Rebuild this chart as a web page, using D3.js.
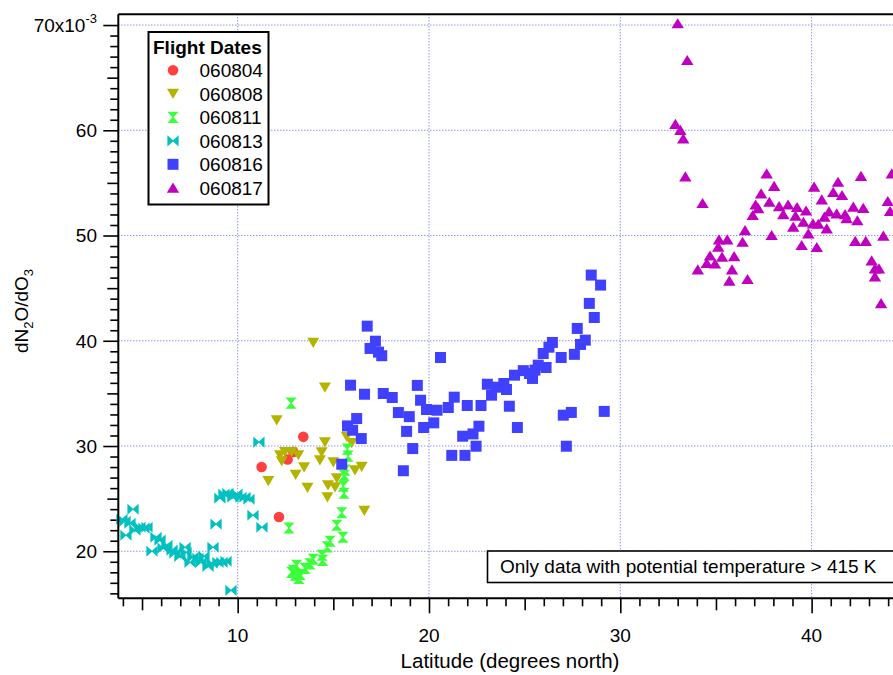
<!DOCTYPE html>
<html><head><meta charset="utf-8">
<script src="https://cdn.jsdelivr.net/npm/d3@7"></script>
<style>
body{margin:0;background:#fff}
svg{display:block}
text{font-family:"Liberation Sans",Arial,Helvetica,sans-serif;fill:#000}
</style>
</head><body>
<svg id="chart" width="893" height="675"></svg>
<script>
// ---------------- DATA ----------------
const seriesNames = ["060804","060808","060811","060813","060816","060817"];
const seriesColors = ["#ff4040","#b4b400","#3cff3c","#00c0c0","#4040ff","#c000c0"];
const seriesShapes = ["circle","triDown","hourglass","bowtie","square","triUp"];

const lat060804 = [13.43,12.91,12.61,11.25,12.16];
const val060804 = [30.87,29.44,28.72,28.01,23.26];

const lat060808 = [13.95,14.56,12.04,11.60,12.21,12.30,12.47,12.82,13.17,13.47,13.03,13.65,14.30,14.39,14.56,15.00,14.72,14.69,15.18,15.09,15.70,15.96,16.13,16.48,16.62];
const val060808 = [39.80,35.56,32.45,26.68,29.13,28.56,29.44,29.44,29.13,27.98,27.27,26.04,28.65,29.41,30.36,28.46,26.27,25.13,26.94,26.08,30.87,30.29,27.70,28.03,23.85];

const lat060811 = [12.79,12.68,15.73,15.77,15.61,15.57,15.52,15.56,15.44,15.18,15.50,14.83,14.68,14.41,14.44,13.95,13.78,13.52,13.26,13.08,12.91,13.00,12.82,13.20];
const val060811 = [34.07,22.21,29.70,29.03,27.70,27.22,26.18,25.51,23.66,22.47,21.33,20.95,20.41,19.62,19.14,19.24,18.81,18.38,17.81,18.67,18.19,17.72,18.00,17.43];

const lat060813 = [3.95,4.11,4.16,4.37,4.53,4.63,4.89,5.10,5.26,5.52,5.73,5.94,6.10,6.30,6.57,6.72,6.98,7.25,7.30,7.51,7.66,7.92,8.08,8.24,8.45,8.66,8.71,8.87,8.97,9.18,9.39,9.65,9.07,9.28,9.49,9.75,9.96,10.17,10.38,10.59,10.80,11.11,11.27];
const val060813 = [23.04,22.85,21.52,22.66,23.99,22.00,22.28,22.19,22.28,20.00,21.33,21.05,20.29,20.57,20.10,19.81,19.52,20.38,19.90,18.95,19.43,19.33,18.95,19.52,18.57,18.86,20.38,22.57,18.95,18.95,19.05,16.29,25.04,25.42,25.51,25.13,25.42,25.13,25.13,24.94,23.42,30.36,22.28];

const lat060816 = [16.77,17.20,16.92,17.36,17.53,20.60,15.90,16.63,17.61,18.08,19.39,19.56,18.40,18.97,19.87,20.42,21.01,21.32,22.00,22.72,16.22,15.74,16.01,16.46,18.83,19.72,20.25,21.76,22.30,22.61,19.15,15.44,18.66,21.19,21.88,22.46,28.48,28.97,28.38,28.64,27.75,28.17,27.92,27.60,26.91,26.45,26.27,25.97,25.71,26.12,25.54,25.41,25.25,24.93,24.47,23.91,24.05,23.05,23.54,23.27,24.20,27.02,27.44,29.16,24.62,27.18];
const val060816 = [41.39,39.96,39.27,38.92,38.58,38.41,35.78,34.92,34.99,34.61,35.76,34.35,33.18,32.79,33.47,33.40,33.66,34.64,33.85,33.85,32.61,31.91,31.50,30.71,31.39,31.76,32.20,30.93,31.15,31.88,29.76,28.27,27.65,29.11,29.11,29.98,46.24,45.29,43.55,42.21,41.17,40.06,39.65,38.71,38.41,39.84,39.39,38.79,37.68,37.46,37.21,36.42,36.89,37.16,36.73,35.94,35.37,35.87,35.59,34.83,33.78,32.93,33.19,33.29,31.76,29.98];

const lat060817 = [33.00,33.50,32.88,33.14,33.29,33.40,34.30,34.05,34.52,34.69,34.95,35.12,35.16,35.59,35.32,35.84,35.95,35.70,36.39,36.52,36.65,36.92,37.07,37.21,37.36,37.65,37.79,38.04,37.91,38.30,38.52,38.77,39.04,39.24,39.16,39.57,39.71,39.48,39.83,40.13,40.07,40.27,40.35,40.53,40.67,40.79,40.91,41.13,41.38,41.59,41.31,41.75,41.83,42.18,42.39,42.70,42.58,42.28,42.83,43.14,43.31,43.52,43.31,43.63,43.75,43.98,44.10,44.19];
const val060817 = [70.16,66.67,60.59,60.02,59.23,55.62,53.08,46.78,47.38,48.09,47.33,48.93,49.63,49.63,47.98,46.78,48.04,45.71,49.40,50.51,45.86,51.94,52.94,52.60,54.00,55.90,53.20,54.70,50.04,52.79,52.03,52.94,50.83,52.70,51.89,51.30,52.37,49.09,50.20,54.63,51.15,48.90,51.11,53.43,51.78,50.67,52.29,54.13,55.10,53.84,52.10,52.03,51.63,52.73,51.44,52.62,55.65,49.49,49.49,47.63,46.87,46.87,46.11,43.57,49.99,53.27,52.32,55.90];

const xMajorTicks = [10,20,30,40];
const yMajorTicks = [20,30,40,50,60,70];
const xTickLabels = ["10","20","30","40"];
const yTickLabels = ["20","30","40","50","60","70x10"];
const legendTitle = "Flight Dates";
const noteText = "Only data with potential temperature > 415 K";
const xTitle = "Latitude (degrees north)";

const lats = [lat060804,lat060808,lat060811,lat060813,lat060816,lat060817];
const vals = [val060804,val060808,val060811,val060813,val060816,val060817];

// ---------------- LAYOUT ----------------
const L = 118.3, R = 900, T = 14.3, B = 598.3;
const x = d3.scaleLinear().domain([3.76, 44.62]).range([L, R]);
const y = d3.scaleLinear().domain([15.53, 71.02]).range([B, T]);
const svg = d3.select("#chart");
const FS = 19;

const shapes = {
  circle: "M5.3,0A5.3,5.3 0 1,1 -5.3,0A5.3,5.3 0 1,1 5.3,0Z",
  triDown: "M-6,-5L6,-5L0,5.2Z",
  triUp: "M0,-5.2L6.2,5L-6.2,5Z",
  square: "M-5.5,-5.5H5.5V5.5H-5.5Z",
  hourglass: "M-5.6,-5.6L5.6,-5.6L0.6,0L5.6,5.6L-5.6,5.6L-0.6,0Z",
  bowtie: "M-5.6,-5.6L0,-0.6L5.6,-5.6L5.6,5.6L0,0.6L-5.6,5.6Z"
};

// grid
const grid = svg.append("g");
grid.selectAll("line.gx").data(xMajorTicks).join("line")
  .attr("x1", d => x(d)).attr("x2", d => x(d)).attr("y1", T).attr("y2", B)
  .attr("stroke", "#5c5cff").attr("stroke-width", 1).attr("stroke-dasharray", "1,2");
grid.selectAll("line.gy").data(yMajorTicks).join("line")
  .attr("y1", d => y(d)).attr("y2", d => y(d)).attr("x1", L).attr("x2", R)
  .attr("stroke", "#5c5cff").attr("stroke-width", 1).attr("stroke-dasharray", "1,2");

// axes ticks
function xAxis(vals, size) {
  svg.append("g").attr("transform", `translate(0,${B})`)
    .call(d3.axisBottom(x).tickValues(vals).tickSize(size).tickFormat(""))
    .call(g => { g.select(".domain").remove(); g.selectAll("line").attr("stroke", "#000").attr("stroke-width", 1.6); });
}
function yAxis(vals, size) {
  svg.append("g").attr("transform", `translate(${L},0)`)
    .call(d3.axisLeft(y).tickValues(vals).tickSize(size).tickFormat(""))
    .call(g => { g.select(".domain").remove(); g.selectAll("line").attr("stroke", "#000").attr("stroke-width", 1.6); });
}
xAxis(d3.range(4, 45).filter(d => d % 5 !== 0), 8);
xAxis([5,15,25,35], 12);
xAxis(xMajorTicks, 15);
yAxis(d3.range(16, 71).filter(d => d % 5 !== 0), 8);
yAxis([25,35,45,55,65], 11);
yAxis(yMajorTicks, 15);

// tick labels
svg.append("g").selectAll("text").data(xMajorTicks).join("text")
  .attr("x", d => x(d)).attr("y", B + 44).attr("text-anchor", "middle")
  .attr("font-size", FS).text((d, i) => xTickLabels[i]);
const yl = svg.append("g").selectAll("text").data(yMajorTicks).join("text")
  .attr("x", 97).attr("y", d => y(d)).attr("dy", "0.36em").attr("text-anchor", "end")
  .attr("font-size", FS);
yl.each(function(d, i) {
  const t = d3.select(this);
  t.append("tspan").text(yTickLabels[i]);
  if (d === 70) t.append("tspan").attr("font-size", 13).attr("dy", -9).text("-3");
});

// markers
for (let s = 0; s < seriesNames.length; s++) {
  const pts = lats[s].map((la, i) => [la, vals[s][i]]);
  svg.append("g").selectAll("path").data(pts).join("path")
    .attr("d", shapes[seriesShapes[s]])
    .attr("transform", d => `translate(${x(d[0])},${y(d[1])})`)
    .attr("fill", seriesColors[s]);
}

// frame
svg.append("line").attr("x1", L).attr("x2", R).attr("y1", T).attr("y2", T).attr("stroke", "#000").attr("stroke-width", 2);
svg.append("line").attr("x1", L).attr("x2", R).attr("y1", B).attr("y2", B).attr("stroke", "#000").attr("stroke-width", 2);
svg.append("line").attr("x1", L).attr("x2", L).attr("y1", T).attr("y2", B).attr("stroke", "#000").attr("stroke-width", 2);

// legend
const lg = svg.append("g");
lg.append("rect").attr("x", 148.5).attr("y", 32).attr("width", 120).attr("height", 172.5)
  .attr("fill", "#fff").attr("stroke", "#000").attr("stroke-width", 2);
lg.append("text").attr("x", 153).attr("y", 53.5).attr("font-size", FS).attr("font-weight", "bold").text(legendTitle);
const legY = d3.scalePoint().domain(seriesNames).range([70.3, 187.8]);
seriesNames.forEach((n, i) => {
  lg.append("path").attr("d", shapes[seriesShapes[i]])
    .attr("transform", `translate(173,${legY(n)})`).attr("fill", seriesColors[i]);
  lg.append("text").attr("x", 199.5).attr("y", legY(n)).attr("dy", "0.36em").attr("font-size", FS).text(n);
});

// note box
svg.append("rect").attr("x", 487.5).attr("y", 551).attr("width", 430).attr("height", 31.5)
  .attr("fill", "#fff").attr("stroke", "#000").attr("stroke-width", 1.6);
svg.append("text").attr("x", 500).attr("y", 573).attr("font-size", FS).text(noteText);

// axis titles
svg.append("text").attr("x", 510).attr("y", 668).attr("text-anchor", "middle").attr("font-size", 20.5).text(xTitle);
const yt = svg.append("text").attr("transform", "translate(28,311) rotate(-90)")
  .attr("text-anchor", "middle").attr("font-size", FS);
yt.append("tspan").text("dN");
yt.append("tspan").attr("font-size", 13).attr("dy", 5).text("2");
yt.append("tspan").attr("dy", -5).text("O/dO");
yt.append("tspan").attr("font-size", 13).attr("dy", 5).text("3");
</script>
</body></html>
